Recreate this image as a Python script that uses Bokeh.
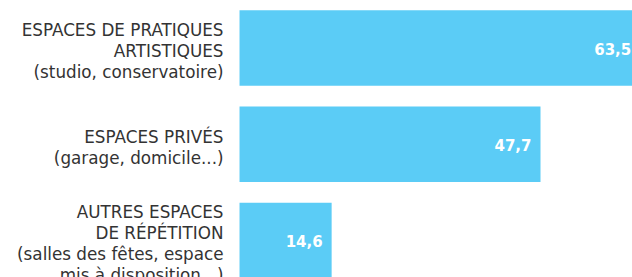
from bokeh.plotting import figure
from bokeh.models import ColumnDataSource, Range1d
from bokeh.core.properties import value
from bokeh.embed import file_html
from bokeh.resources import INLINE

categories = [
    "ESPACES DE PRATIQUES\nARTISTIQUES\n(studio, conservatoire)",
    "ESPACES PRIVÉS\n(garage, domicile...)",
    "AUTRES ESPACES\nDE RÉPÉTITION\n(salles des fêtes, espace\nmis à disposition...)",
]
values = [63.5, 47.7, 14.6]
value_labels = ["63,5", "47,7", "14,6"]

src = ColumnDataSource(dict(
    y=list(range(len(values))),
    v=values,
    zero=[0] * len(values),
    lab=categories,
    vlab=value_labels,
))

p = figure(width=632, height=277, output_backend="svg", toolbar_location=None,
           x_range=Range1d(-37.88, 62.28), y_range=Range1d(2.3845, -0.4935),
           min_border=0, min_border_left=0, min_border_right=0,
           min_border_top=0, min_border_bottom=0)
p.axis.visible = False
p.grid.visible = False
p.outline_line_color = None
p.background_fill_color = "white"
p.border_fill_color = "white"

p.hbar(y="y", left="zero", right="v", height=0.785, source=src,
       fill_color="#5BCCF6", line_color=None)

p.text(x="zero", y="y", text="lab", source=src, x_offset=-16, y_offset=3,
       text_align="right", text_baseline="middle",
       text_font=value("DejaVu Sans"), text_font_size="16.8px",
       text_color="#333333", text_line_height=1.04)

p.text(x="v", y="y", text="vlab", source=src, x_offset=-9, y_offset=1,
       text_align="right", text_baseline="middle",
       text_font=value("DejaVu Sans"), text_font_style="bold",
       text_font_size="15px", text_color="white")

open("out.html", "w").write(file_html(p, INLINE))
